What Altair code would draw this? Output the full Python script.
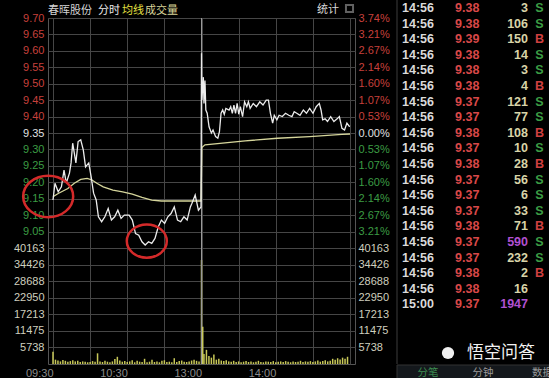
import altair as alt
import pandas as pd

PREV_CLOSE = 9.35

# ---------------- data ----------------
# minute index: 0 = 09:30, 120 = 11:30/13:00, 240 = 15:00
price_am = [(0, 9.146), (1.6, 9.197), (4.2, 9.171), (6.8, 9.186), (8.9, 9.237), (10.7, 9.198),
            (13.3, 9.228), (14.6, 9.259), (15.9, 9.319), (18.5, 9.259), (20.3, 9.324), (22.4, 9.329),
            (24.5, 9.298), (26.3, 9.247), (28.9, 9.259), (30.8, 9.217), (32.8, 9.167), (34.9, 9.146),
            (36.7, 9.095), (39.3, 9.080), (41.9, 9.095), (44.6, 9.120), (47.2, 9.085), (49.8, 9.095),
            (52.4, 9.115), (55.0, 9.090), (57.6, 9.100), (61.5, 9.100), (64.1, 9.085), (66.7, 9.044),
            (69.3, 9.039), (71.9, 9.019), (74.5, 9.009), (77.2, 9.019), (79.8, 9.014), (82.4, 9.029),
            (85.0, 9.064), (87.6, 9.085), (90.2, 9.075), (92.8, 9.095), (95.4, 9.105), (98.0, 9.125),
            (100.6, 9.085), (103.2, 9.080), (105.8, 9.095), (108.4, 9.085), (111.0, 9.125),
            (112.3, 9.136), (114.9, 9.161), (117.5, 9.115), (119.6, 9.125)]
price_pm = [(120.0, 9.593), (120.3, 9.450), (121.5, 9.520), (122.0, 9.440), (122.8, 9.510),
            (123.5, 9.420), (124.6, 9.410), (126.1, 9.369), (128.0, 9.350), (129.3, 9.359),
            (131.4, 9.339), (133.2, 9.334), (134.5, 9.354), (135.8, 9.410), (137.1, 9.420),
            (138.4, 9.407), (139.7, 9.425), (142.3, 9.420), (143.6, 9.430), (144.9, 9.410),
            (146.2, 9.435), (147.5, 9.410), (148.8, 9.440), (150.1, 9.407), (151.4, 9.430),
            (153.2, 9.400), (154.8, 9.445), (156.6, 9.430), (157.9, 9.445), (159.3, 9.425),
            (161.8, 9.440), (164.4, 9.430), (167.1, 9.445), (169.7, 9.435), (172.3, 9.450),
            (174.1, 9.450), (175.7, 9.410), (177.5, 9.380), (178.8, 9.404), (180.9, 9.390),
            (182.7, 9.404), (185.3, 9.400), (187.9, 9.410), (190.5, 9.404), (193.1, 9.400),
            (194.9, 9.415), (197.0, 9.410), (199.6, 9.404), (202.3, 9.420), (204.8, 9.410),
            (207.4, 9.425), (210.1, 9.410), (212.7, 9.430), (215.2, 9.440), (216.6, 9.420),
            (217.9, 9.390), (219.9, 9.393), (221.8, 9.385), (224.4, 9.400), (227.0, 9.385),
            (229.6, 9.393), (231.4, 9.400), (233.5, 9.364), (235.6, 9.359), (237.5, 9.380),
            (239.3, 9.371), (240.0, 9.370)]
avg_pts = [(0, 9.156), (4.2, 9.166), (12.0, 9.181), (17.2, 9.197), (22.4, 9.209), (27.6, 9.212),
           (31.5, 9.207), (35.4, 9.197), (40.6, 9.186), (48.4, 9.176), (56.3, 9.171), (64.1, 9.164),
           (71.9, 9.154), (79.8, 9.146), (87.6, 9.143), (98.0, 9.143), (108.4, 9.143), (119.6, 9.143),
           (120.3, 9.306), (122.8, 9.314), (155.3, 9.326), (181.4, 9.334), (207.4, 9.339),
           (233.5, 9.346), (240.0, 9.347)]

vol_am = [4200, 1500, 1200, 900, 1400, 1100, 800, 1000, 1300, 900, 1100, 700, 900, 800, 600,
          700, 1000, 800, 3700, 900, 700, 1100, 800, 600, 900, 1700, 2500, 1200, 800, 1000,
          700, 900, 1300, 600, 1100, 800, 700, 1800, 600, 800, 1500, 700, 900, 600, 1100,
          1300, 700, 800, 600, 2000, 700, 1000, 1200, 800, 700, 900, 1200, 1500, 1100, 900]
vol_pm = [36000, 3500, 4900, 2800, 2200, 3300, 1500, 1800, 1200, 1000, 1300, 900, 800, 1100, 700,
          900, 600, 800, 1000, 700, 900, 600, 800, 1100, 700, 600, 900, 800, 700, 1000,
          600, 800, 900, 700, 1000, 800, 600, 900, 700, 800, 1100, 700, 900, 800, 1000,
          700, 900, 1200, 800, 1000, 1300, 900, 1100, 1800, 1500, 2000, 1600, 2200, 1800, 2500]
vol_extra = [(121, 12900)]

price_ticks = [9.70, 9.65, 9.60, 9.55, 9.50, 9.45, 9.40, 9.35, 9.30, 9.25, 9.20, 9.15, 9.10, 9.05]
pct_ticks = [3.74, 3.21, 2.67, 2.14, 1.60, 1.07, 0.53, 0.00, -0.53, -1.07, -1.60, -2.14, -2.67, -3.21]
vol_ticks = [40163, 34426, 28688, 22950, 17213, 11475, 5738]
time_grid = [0, 30, 60, 90, 120, 150, 180, 210, 240]
time_ticks = [0, 60, 120, 180]
time_labels = ["09:30", "10:30", "13:00", "14:00"]

circle_min = [-3.9, 75.8]
circle_price = [9.157, 9.021]
circle_size = [2500, 1600]

trade_time = ["14:56", "14:56", "14:56", "14:56", "14:56", "14:56", "14:56", "14:56", "14:56", "14:56",
              "14:56", "14:56", "14:56", "14:56", "14:56", "14:56", "14:56", "14:56", "14:56", "15:00"]
trade_price = [9.38, 9.38, 9.39, 9.38, 9.38, 9.38, 9.37, 9.37, 9.38, 9.37,
               9.38, 9.37, 9.37, 9.37, 9.38, 9.37, 9.37, 9.38, 9.38, 9.37]
trade_vol = [3, 106, 150, 14, 3, 4, 121, 77, 108, 10, 28, 56, 6, 33, 71, 590, 232, 2, 16, 1947]
trade_side = ["S", "S", "B", "S", "S", "B", "S", "S", "B", "S", "B", "S", "S", "S", "B", "S", "S", "B", "", ""]

# ---------------- styling ----------------
RED = "#c8403c"
GREEN = "#3c9c44"
WHITE = "#e0e0e0"
GRID = "#464646"
FONT = "Liberation Sans"
CJK = "Noto Sans CJK SC"
W, H = 307, 346

price_df = pd.DataFrame(price_am + price_pm, columns=["m", "p"])
avg_df = pd.DataFrame(avg_pts, columns=["m", "p"])
vol_df = pd.DataFrame(
    [(m, v) for m, v in zip(range(0, 120, 2), vol_am)]
    + [(m, v) for m, v in zip(range(120, 240, 2), vol_pm)]
    + vol_extra, columns=["m", "v"])
pct_df = pd.DataFrame({"pct": pct_ticks})
vt_df = pd.DataFrame({"v": vol_ticks})
circ_df = pd.DataFrame({"m": circle_min, "p": circle_price, "s": circle_size})
sep_df = pd.DataFrame({"m": [120]})

trade_df = pd.DataFrame({
    "i": list(range(len(trade_time))),
    "t": trade_time,
    "pr": [f"{p:.2f}" for p in trade_price],
    "v": [str(v) for v in trade_vol],
    "vc": ["#b050d0" if v >= 500 else "#d8d4a8" for v in trade_vol],
    "sd": trade_side,
    "sc": [GREEN if s == "S" else "#d04040" for s in trade_side],
})

# ---------------- scales / axes ----------------
x_label_expr = " : ".join(f"datum.value == {t} ? '{l}'" for t, l in zip(time_ticks, time_labels)) + " : ''"
xscale = alt.Scale(domain=[0, 240], nice=False, zero=False)
xaxis = alt.Axis(values=time_grid, labelExpr=x_label_expr, grid=True, gridColor=GRID, domain=False,
                 ticks=False, labelAlign="right", labelPadding=3, labelColor="#8c8c8c",
                 labelFontSize=11, labelFont=FONT, title=None, labelOverlap=False, labelBound=False)
X = alt.X("m:Q", scale=xscale, axis=xaxis)

pscale = alt.Scale(domain=[8.64696, 9.70], nice=False, zero=False)
vscale = alt.Scale(domain=[0, 119797], nice=False, zero=False)
pctscale = alt.Scale(domain=[-7.5134, 3.7433], nice=False, zero=False)
rowscale = alt.Scale(domain=[0.64103, 22.8205], range=[0, H], nice=False, zero=False)

paxis = alt.Axis(orient="left", values=price_ticks, format=".2f", grid=True, gridColor=GRID,
                 domain=False, ticks=False, labelPadding=4, labelFontSize=11, labelFont=FONT,
                 title=None, labelOverlap=False,
                 labelColor={"condition": [{"test": f"datum.value > {PREV_CLOSE + 0.001}", "value": RED},
                                           {"test": f"datum.value < {PREV_CLOSE - 0.001}", "value": GREEN}],
                             "value": WHITE})
pctaxis = alt.Axis(orient="right", values=pct_ticks, labelExpr="format(abs(datum.value), '.2f') + '%'",
                   grid=False, domain=False, ticks=False, labelPadding=3, labelFontSize=11,
                   labelFont=FONT, title=None, labelOverlap=False,
                   labelColor={"condition": [{"test": "datum.value > 0.001", "value": RED},
                                             {"test": "datum.value < -0.001", "value": GREEN}],
                               "value": WHITE})
vaxis_l = alt.Axis(orient="left", values=vol_ticks, format="d", grid=True, gridColor=GRID, domain=False,
                   ticks=False, labelPadding=4, labelFontSize=11, labelFont=FONT, labelColor="#cfcfbf",
                   title=None, labelOverlap=False)
vaxis_r = alt.Axis(orient="right", values=vol_ticks, format="d", grid=False, domain=False,
                   ticks=False, labelPadding=3, labelFontSize=11, labelFont=FONT, labelColor="#cfcfbf",
                   title=None, labelOverlap=False)

# ---------------- layers ----------------
vol_bars = alt.Chart(vol_df).mark_bar(width=1.5, color="#c8c858").encode(
    x=X, y=alt.Y("v:Q", scale=vscale, axis=vaxis_l))
vol_right = alt.Chart(vt_df).mark_point(opacity=0).encode(
    y=alt.Y("v:Q", scale=vscale, axis=vaxis_r))
sep13 = alt.Chart(sep_df).mark_rule(color="#9a9a9a", strokeWidth=1).encode(x=X)
price_line = alt.Chart(price_df).mark_line(color="#ececec", strokeWidth=1.3).encode(
    x=X, y=alt.Y("p:Q", scale=pscale, axis=paxis))
avg_line = alt.Chart(avg_df).mark_line(color="#d6d69c", strokeWidth=1.3).encode(
    x=X, y=alt.Y("p:Q", scale=pscale, axis=None))
pct_layer = alt.Chart(pct_df).mark_point(opacity=0).encode(
    y=alt.Y("pct:Q", scale=pctscale, axis=pctaxis))

ellipse = "M -1 0 A 1 0.83 0 1 1 1 0 A 1 0.83 0 1 1 -1 0 Z"
circles = alt.Chart(circ_df).mark_point(shape=ellipse, filled=False, stroke="#d42a2a",
                                        strokeWidth=2.5, opacity=1, clip=False).encode(
    x=X, y=alt.Y("p:Q", scale=pscale, axis=None), size=alt.Size("s:Q", scale=None))

Yrow = alt.Y("i:Q", scale=rowscale, axis=None)
t_time = alt.Chart(trade_df).mark_text(align="left", baseline="middle", font=FONT, fontWeight="bold",
                                       fontSize=12.5, color="#dadada").encode(
    x=alt.value(354), y=Yrow, text="t:N")
t_price = alt.Chart(trade_df).mark_text(align="left", baseline="middle", font=FONT, fontWeight="bold",
                                        fontSize=12.5, color="#d84848").encode(
    x=alt.value(407), y=Yrow, text="pr:N")
t_vol = alt.Chart(trade_df).mark_text(align="right", baseline="middle", font=FONT, fontWeight="bold",
                                      fontSize=12.5).encode(
    x=alt.value(480), y=Yrow, text="v:N", color=alt.Color("vc:N", scale=None))
t_side = alt.Chart(trade_df).mark_text(align="center", baseline="middle", font=FONT, fontWeight="bold",
                                       fontSize=12.5).encode(
    x=alt.value(491.5), y=Yrow, text="sd:N", color=alt.Color("sc:N", scale=None))

one = pd.DataFrame({"k": [0]})


def label(text, x, y, color, size=11, align="left", font=CJK, weight="normal"):
    return alt.Chart(one).mark_text(text=text, align=align, baseline="middle", font=font,
                                    fontSize=size, color=color, fontWeight=weight).encode(
        x=alt.value(x), y=alt.value(y))


header = [
    label("春晖股份", 0, -7, "#d4d4d4"),
    label("分时", 50, -7, "#eaeaea"),
    label("均线", 74, -7, "#e6e040"),
    label("成交量", 97, -7, "#d8d498"),
    label("统计", 269, -8, "#d8d8d8"),
]
box = alt.Chart(one).mark_point(shape="square", filled=False, stroke="#8a8a8a", size=50).encode(
    x=alt.value(301.5), y=alt.value(-9.5))
divider = alt.Chart(one).mark_rule(color="#3c3c3c").encode(
    x=alt.value(349), y=alt.value(-18), y2=alt.value(346))
tabbar = alt.Chart(one).mark_rect(color="#14181c", stroke="#333333", strokeWidth=1).encode(
    x=alt.value(349), x2=alt.value(501), y=alt.value(347), y2=alt.value(361))
tabs = [
    label("分笔", 380, 355, "#3c8c50", size=10.5, align="center"),
    label("分钟", 435, 355, "#9a9a9a", size=10.5, align="center"),
    label("数据", 484, 355, "#9a9a9a", size=10.5),
]
logo = alt.Chart(one).mark_point(shape="circle", filled=True, color="#f0f0f0", size=150, opacity=1).encode(
    x=alt.value(400), y=alt.value(335))
wm = label("悟空问答", 453, 335, "#f2f2f2", size=17, align="center")

layers = [vol_bars, vol_right, sep13, avg_line, price_line, pct_layer, circles,
          t_time, t_price, t_vol, t_side, box, divider, tabbar, logo, wm] + header + tabs

chart = alt.layer(*layers).resolve_scale(y="independent").resolve_axis(y="independent").properties(
    width=W, height=H,
    autosize=alt.AutoSizeParams(type="none"),
    padding={"left": 48, "top": 18, "right": 194, "bottom": 14},
).configure(background="#000000").configure_view(stroke="#555555", strokeWidth=1)

chart.save("out.html", embed_options={"renderer": "svg", "actions": False})
